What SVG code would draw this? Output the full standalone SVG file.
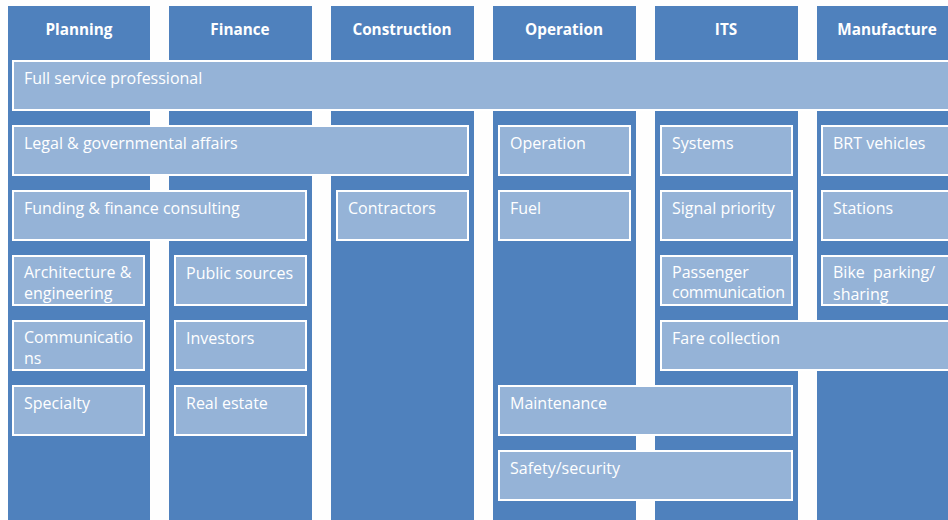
<svg xmlns="http://www.w3.org/2000/svg" width="948" height="520" viewBox="0 0 948 520">
<style>
.col{fill:#4F81BD}
.box{fill:#95B3D7;stroke:#FFFFFF;stroke-width:2}
.hd{font-family:"Open Sans","Liberation Sans",sans-serif;font-weight:bold;font-size:15.3px;fill:#FFFFFF;text-anchor:middle}
.t{font-family:"Open Sans","Liberation Sans",sans-serif;font-size:16px;fill:#FFFFFF}
</style>
<rect width="948" height="520" fill="#FEFEFE"/>
<g id="col-planning"><rect class="col" x="8" y="6" width="142" height="520"/><text class="hd" x="79" y="35">Planning</text></g>
<g id="col-finance"><rect class="col" x="169" y="6" width="143" height="520"/><text class="hd" x="240" y="35">Finance</text></g>
<g id="col-construction"><rect class="col" x="331" y="6" width="143" height="520"/><text class="hd" x="402" y="35">Construction</text></g>
<g id="col-operation"><rect class="col" x="493" y="6" width="143" height="520"/><text class="hd" x="564" y="35">Operation</text></g>
<g id="col-its"><rect class="col" x="655" y="6" width="143" height="520"/><text class="hd" x="726" y="35">ITS</text></g>
<g id="col-manufacture"><rect class="col" x="817" y="6" width="143" height="520"/><text class="hd" x="887" y="35">Manufacture</text></g>

<g id="full-service"><rect class="box" x="13" y="61" width="945" height="49"/><text class="t" x="24" y="84">Full service professional</text></g>
<g id="legal"><rect class="box" x="13" y="126" width="455" height="49"/><text class="t" x="24" y="149">Legal &amp; governmental affairs</text></g>
<g id="funding"><rect class="box" x="13" y="191" width="293" height="49"/><text class="t" x="24" y="214">Funding &amp; finance consulting</text></g>
<g id="arch"><rect class="box" x="13" y="256" width="131" height="49"/><text class="t" x="24" y="278">Architecture &amp;</text><text class="t" x="24" y="299">engineering</text></g>
<g id="comm"><rect class="box" x="13" y="321" width="131" height="49"/><text class="t" x="24" y="343">Communicatio</text><text class="t" x="24" y="364">ns</text></g>
<g id="specialty"><rect class="box" x="13" y="386" width="131" height="49"/><text class="t" x="24" y="409">Specialty</text></g>
<g id="public"><rect class="box" x="175" y="256" width="131" height="49"/><text class="t" x="186" y="279">Public sources</text></g>
<g id="investors"><rect class="box" x="175" y="321" width="131" height="49"/><text class="t" x="186" y="344">Investors</text></g>
<g id="realestate"><rect class="box" x="175" y="386" width="131" height="49"/><text class="t" x="186" y="409">Real estate</text></g>
<g id="contractors"><rect class="box" x="337" y="191" width="131" height="49"/><text class="t" x="348" y="214">Contractors</text></g>
<g id="operation"><rect class="box" x="499" y="126" width="131" height="49"/><text class="t" x="510" y="149">Operation</text></g>
<g id="fuel"><rect class="box" x="499" y="191" width="131" height="49"/><text class="t" x="510" y="214">Fuel</text></g>
<g id="maintenance"><rect class="box" x="499" y="386" width="293" height="49"/><text class="t" x="510" y="409">Maintenance</text></g>
<g id="safety"><rect class="box" x="499" y="451" width="293" height="49"/><text class="t" x="510" y="474">Safety/security</text></g>
<g id="systems"><rect class="box" x="661" y="126" width="131" height="49"/><text class="t" x="672" y="149">Systems</text></g>
<g id="signal"><rect class="box" x="661" y="191" width="131" height="49"/><text class="t" x="672" y="214">Signal priority</text></g>
<g id="passenger"><rect class="box" x="661" y="256" width="131" height="49"/><text class="t" x="672" y="278">Passenger</text><text class="t" x="672" y="298" textLength="113">communication</text></g>
<g id="fare"><rect class="box" x="661" y="321" width="297" height="49"/><text class="t" x="672" y="344">Fare collection</text></g>
<g id="brt"><rect class="box" x="822" y="126" width="136" height="49"/><text class="t" x="833" y="149">BRT vehicles</text></g>
<g id="stations"><rect class="box" x="822" y="191" width="136" height="49"/><text class="t" x="833" y="214">Stations</text></g>
<g id="bike"><rect class="box" x="822" y="256" width="136" height="49"/><text class="t" x="833" y="278">Bike&#160; parking/</text><text class="t" x="833" y="300">sharing</text></g>
</svg>
